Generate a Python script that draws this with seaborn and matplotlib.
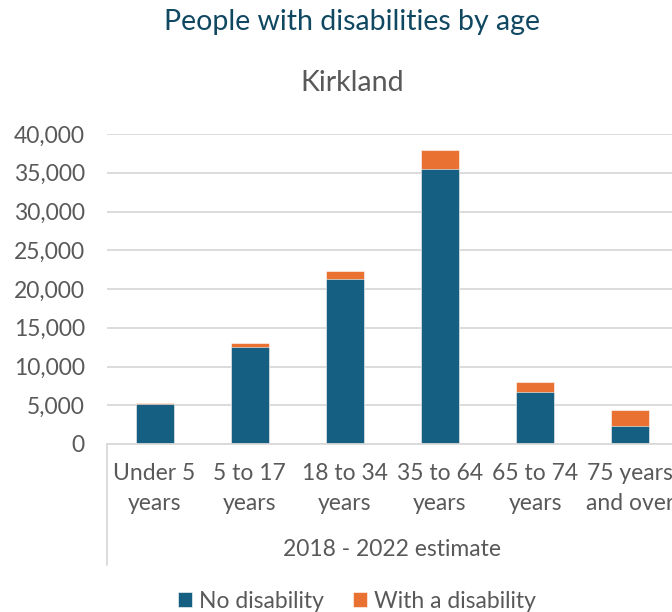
import matplotlib
matplotlib.use("Agg")
import matplotlib.pyplot as plt
import seaborn as sns
import pandas as pd
from matplotlib.lines import Line2D

# values
age_groups = ["Under 5\nyears", "5 to 17\nyears", "18 to 34\nyears",
              "35 to 64\nyears", "65 to 74\nyears", "75 years\nand over"]
no_disability = [5210, 12570, 21240, 35440, 6660, 2360]
with_disability = [40, 430, 1120, 2530, 1380, 2070]

blue = "#156082"
orange = "#E97132"
grey_text = "#595959"

data = pd.DataFrame({
    "age": age_groups,
    "no": no_disability,
    "with": with_disability,
})
data["total"] = data["no"] + data["with"]

sns.set_theme(style="white")
plt.rcParams["font.family"] = ["Lato", "DejaVu Sans"]

fig = plt.figure(figsize=(6.72, 6.12), dpi=100)
ax = fig.add_axes([107 / 672, 1 - 444 / 612, 1 - 107 / 672, 310 / 612])

sns.barplot(x="age", y="total", data=data, color=orange, width=0.4,
            saturation=1, ax=ax, label="With a disability")
sns.barplot(x="age", y="no", data=data, color=blue, width=0.4,
            saturation=1, ax=ax, label="No disability")
for p in ax.patches:
    p.set_edgecolor("white")
    p.set_linewidth(0.4)
handles, labels = ax.get_legend_handles_labels()
if ax.get_legend() is not None:
    ax.get_legend().remove()

ax.set_ylim(0, 40000)
ax.set_xlim(-0.5, 5.44)
ax.set_yticks(range(0, 40001, 5000))
ax.yaxis.set_major_formatter(matplotlib.ticker.StrMethodFormatter("{x:,.0f}"))
ax.grid(axis="y", color="#D9D9D9", linewidth=1.3)
ax.set_axisbelow(True)
for s in ["top", "right", "left"]:
    ax.spines[s].set_visible(False)
ax.spines["bottom"].set_color("#D9D9D9")
ax.spines["bottom"].set_linewidth(1.3)
ax.tick_params(axis="y", length=0, pad=16, labelsize=16.5, labelcolor=grey_text)
ax.tick_params(axis="x", length=0, pad=14, labelsize=16.5, labelcolor=grey_text)
for t in ax.get_xticklabels():
    t.set_linespacing(1.5)
ax.set_xlabel("")
ax.set_ylabel("")

# vertical line of the category axis
fig.add_artist(Line2D([107 / 672, 107 / 672], [1 - 444 / 612, 1 - 565 / 612],
                      color="#D9D9D9", linewidth=1.3))
fig.text(392 / 672, 1 - 549 / 612, "2018 - 2022 estimate", ha="center",
         va="center", fontsize=16.5, color=grey_text)

fig.text(352 / 672, 1 - 22 / 612, "People with disabilities by age",
         ha="center", va="center", fontsize=20.5, color="#104862")
fig.text(352 / 672, 1 - 83 / 612, "Kirkland", ha="center", va="center",
         fontsize=20.5, color=grey_text)

fig.legend(handles[::-1], labels[::-1], loc="center", ncol=2,
           bbox_to_anchor=(357 / 672, 1 - 601 / 612), frameon=False,
           fontsize=16.5, labelcolor=grey_text, handlelength=0.6,
           handleheight=0.6, handletextpad=0.3, columnspacing=1.3)

fig.savefig("out.png", dpi=100)
